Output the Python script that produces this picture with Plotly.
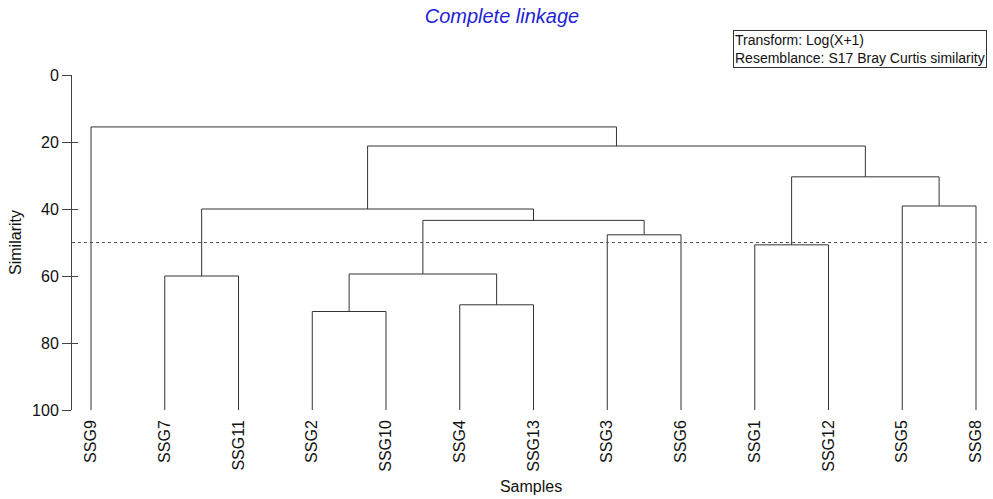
import plotly.graph_objects as go

# Leaf order as drawn (left to right)
leaves = ["SSG9", "SSG7", "SSG11", "SSG2", "SSG10", "SSG4", "SSG13",
          "SSG3", "SSG6", "SSG1", "SSG12", "SSG5", "SSG8"]

# Merges: (left member, right member, similarity); members are leaf names or earlier merge ids "M<k>"
merge_left = ["SSG7", "SSG2", "SSG4", "M1", "SSG3", "M3", "M0", "SSG1", "SSG5", "M7", "M6", "SSG9"]
merge_right = ["SSG11", "SSG10", "SSG13", "M2", "SSG6", "M4", "M5", "SSG12", "SSG8", "M8", "M9", "M10"]
merge_sim = [60.0, 70.6, 68.6, 59.4, 47.7, 43.4, 40.0, 50.7, 39.1, 30.4, 21.2, 15.5]

cut_level = 50.0
y_ticks = [0, 20, 40, 60, 80, 100]

# Build dendrogram line segments
pos = {name: (i, 100.0) for i, name in enumerate(leaves)}
xs, ys = [], []
for k, (a, b, h) in enumerate(zip(merge_left, merge_right, merge_sim)):
    xa, ha = pos[a]
    xb, hb = pos[b]
    xs += [xa, xa, xb, xb, None]
    ys += [ha, h, h, hb, None]
    pos["M%d" % k] = ((xa + xb) / 2.0, h)

fig = go.Figure()
fig.add_trace(go.Scatter(x=xs, y=ys, mode="lines",
                         line=dict(color="#333333", width=1),
                         hoverinfo="skip", showlegend=False))
# invisible trace for second y axis (inside ticks)
fig.add_trace(go.Scatter(x=[0], y=[0], mode="markers", marker=dict(opacity=0),
                         yaxis="y2", hoverinfo="skip", showlegend=False))

fig.add_shape(type="line", xref="paper", x0=0, x1=1, yref="y", y0=cut_level, y1=cut_level,
              line=dict(color="#555555", width=1, dash="dot"))

font_family = "Liberation Sans, Arial, sans-serif"

fig.update_layout(
    width=993, height=499,
    margin=dict(l=72, r=3, t=75, b=89),
    plot_bgcolor="white", paper_bgcolor="white",
    font=dict(family=font_family, size=16, color="#111111"),
    title=dict(text="<i>Complete linkage</i>", xref="container", x=0.5055, xanchor="center",
               yref="container", y=0.967, yanchor="middle",
               font=dict(size=20, color="#1f1fd6", family=font_family)),
    xaxis=dict(range=[-0.258, 12.19], tickmode="array", tickvals=list(range(len(leaves))),
               ticktext=leaves, tickangle=-90, showline=False, showgrid=False, zeroline=False,
               ticks="", ticklabelstandoff=6,
               title=dict(text="Samples", standoff=10, font=dict(size=16)),
               tickfont=dict(size=16)),
    yaxis=dict(range=[100, 0], tickmode="array", tickvals=y_ticks, showline=True,
               linecolor="#444444", linewidth=1, ticks="outside", ticklen=9, tickcolor="#444444",
               showgrid=False, zeroline=False, title=dict(text="Similarity", standoff=6, font=dict(size=16)),
               tickfont=dict(size=16)),
    yaxis2=dict(range=[100, 0], overlaying="y", side="left", tickmode="array", tickvals=y_ticks,
                ticks="inside", ticklen=6, tickcolor="#444444", showticklabels=False,
                showline=False, showgrid=False, zeroline=False),
)

fig.add_annotation(xref="paper", yref="paper", x=0.72, y=1.134, xanchor="left", yanchor="top",
                   text="Transform: Log(X+1)<br>Resemblance: S17 Bray Curtis similarity",
                   showarrow=False, align="left", bordercolor="#333333", borderwidth=1,
                   borderpad=1, bgcolor="white", font=dict(size=14, family=font_family, color="#111111"))

fig.write_html("out.html")
